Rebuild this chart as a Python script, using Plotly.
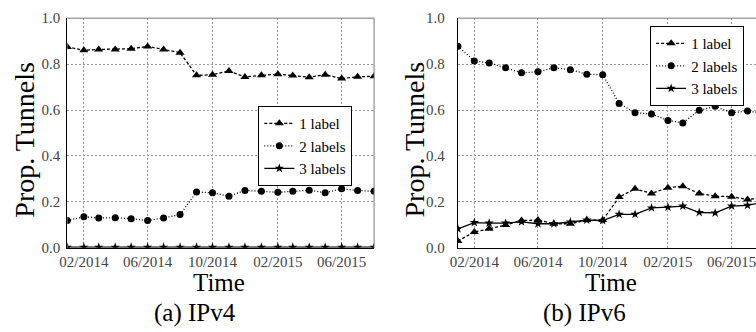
import plotly.graph_objects as go

months = ["2014-01-01", "2014-02-01", "2014-03-01", "2014-04-01", "2014-05-01",
          "2014-06-01", "2014-07-01", "2014-08-01", "2014-09-01", "2014-10-01",
          "2014-11-01", "2014-12-01", "2015-01-01", "2015-02-01", "2015-03-01",
          "2015-04-01", "2015-05-01", "2015-06-01", "2015-07-01", "2015-08-01"]

series_names = ["1 label", "2 labels", "3 labels"]

ipv4_1 = [0.875, 0.860, 0.864, 0.864, 0.867, 0.877, 0.864, 0.850, 0.751, 0.754,
          0.770, 0.744, 0.751, 0.756, 0.750, 0.743, 0.754, 0.737, 0.745, 0.747]
ipv4_2 = [0.119, 0.135, 0.130, 0.131, 0.127, 0.119, 0.130, 0.145, 0.243, 0.240,
          0.225, 0.250, 0.246, 0.242, 0.246, 0.251, 0.240, 0.257, 0.250, 0.246]
ipv4_3 = [0.003, 0.003, 0.003, 0.003, 0.003, 0.003, 0.003, 0.003, 0.003, 0.003,
          0.003, 0.003, 0.003, 0.003, 0.003, 0.003, 0.003, 0.003, 0.003, 0.003]

ipv6_1 = [0.030, 0.069, 0.083, 0.099, 0.119, 0.121, 0.105, 0.105, 0.121, 0.121,
          0.221, 0.257, 0.237, 0.262, 0.268, 0.237, 0.225, 0.223, 0.210, 0.220]
ipv6_2 = [0.878, 0.814, 0.805, 0.784, 0.762, 0.767, 0.784, 0.776, 0.756, 0.754,
          0.629, 0.588, 0.583, 0.555, 0.544, 0.599, 0.616, 0.588, 0.596, 0.585]
ipv6_3 = [0.083, 0.110, 0.108, 0.108, 0.113, 0.105, 0.105, 0.113, 0.121, 0.119,
          0.146, 0.146, 0.174, 0.177, 0.182, 0.154, 0.152, 0.182, 0.185, 0.200]

y_title = "Prop. Tunnels"
x_title = "Time"
captions = ["(a) IPv4", "(b) IPv6"]

W, H = 756, 332
FONT = "Liberation Serif"

styles = [
    dict(dash="3px,2px", symbol="triangle-up", size=8),
    dict(dash="1px,2px", symbol="circle", size=7),
    dict(dash="solid", symbol="star", size=7),
]

fig = go.Figure()

panels = [
    ([ipv4_1, ipv4_2, ipv4_3], "x", "y", "legend"),
    ([ipv6_1, ipv6_2, ipv6_3], "x2", "y2", "legend2"),
]
for data, xa, ya, lg in panels:
    for name, vals, st in zip(series_names, data, styles):
        fig.add_trace(go.Scatter(
            x=months, y=vals, name=name, mode="lines+markers",
            xaxis=xa, yaxis=ya, legend=lg,
            line=dict(color="black", width=1.3, dash=st["dash"]),
            marker=dict(symbol=st["symbol"], size=st["size"], color="black",
                        line=dict(width=0)),
        ))

px_x = lambda p: p / W
px_y = lambda p: (H - p) / H

ydom = [px_y(252), px_y(10.7)]
xdom1 = [px_x(60), px_x(370)]
xdom2 = [px_x(454.7), 1.0]

tickfont = dict(family=FONT, size=15, color="#444")
grid = dict(showgrid=True, gridcolor="#999", gridwidth=1, griddash="2px,2px")

common_x = dict(type="date", tickformat="%m/%Y", tick0="2014-02-01", dtick="M4",
                showline=True, linecolor="black", linewidth=1.3, ticks="", ticklen=0,
                tickfont=tickfont, zeroline=False, ticklabeloverflow="allow", **grid)
common_y = dict(range=[0, 1], dtick=0.2, tickformat=".1f", showline=True,
                linecolor="black", linewidth=1.3, ticks="", ticklen=0, tickfont=tickfont,
                zeroline=False, **grid)

legend_common = dict(xanchor="left", yanchor="top", bgcolor="white",
                     bordercolor="black", borderwidth=1,
                     font=dict(family=FONT, size=15, color="black"), itemwidth=30)

fig.update_layout(
    width=W, height=H, margin=dict(l=0, r=0, t=0, b=0),
    font=dict(family=FONT, color="black"),
    paper_bgcolor="white", plot_bgcolor="white",
    xaxis=dict(domain=xdom1, anchor="y", range=["2014-01-01", "2015-08-01"], **common_x),
    yaxis=dict(domain=ydom, anchor="x", ticklabelstandoff=3, **common_y),
    xaxis2=dict(domain=xdom2, anchor="y2", range=["2014-01-01", "2015-07-17"], **common_x),
    yaxis2=dict(domain=ydom, anchor="x2", ticklabelstandoff=9, **common_y),
    legend=dict(x=px_x(253), y=px_y(103), **legend_common),
    legend2=dict(x=px_x(649), y=px_y(19), **legend_common),
    showlegend=True,
)

# top / right frame lines
fig.add_shape(type="line", xref="x domain", yref="y domain", x0=0, x1=1, y0=1, y1=1,
              line=dict(color="#777", width=1))
fig.add_shape(type="line", xref="x domain", yref="y domain", x0=1, x1=1, y0=0, y1=1,
              line=dict(color="#777", width=1))
fig.add_shape(type="line", xref="x2 domain", yref="y2 domain", x0=0, x1=1, y0=1, y1=1,
              line=dict(color="#777", width=1))

ann_font_title = dict(family=FONT, size=28, color="black")
ann_font_x = dict(family=FONT, size=25, color="black")
ann_font_cap = dict(family=FONT, size=25, color="black")

for cx_title, cx_time, cx_cap, cap in [(17, 213, 188.5, captions[0]),
                                        (411, 609, 582.7, captions[1])]:
    fig.add_annotation(text=y_title, xref="paper", yref="paper",
                       x=px_x(cx_title), y=px_y(138.5), textangle=-90,
                       showarrow=False, font=ann_font_title,
                       xanchor="center", yanchor="middle")
    fig.add_annotation(text=x_title, xref="paper", yref="paper",
                       x=px_x(cx_time), y=px_y(288), showarrow=False,
                       font=ann_font_x, xanchor="center", yanchor="middle")
    fig.add_annotation(text=cap, xref="paper", yref="paper",
                       x=px_x(cx_cap), y=px_y(320), showarrow=False,
                       font=ann_font_cap, xanchor="center", yanchor="middle")

fig.write_html("out.html", config={"displayModeBar": False},
               post_script="document.body.style.margin='0';document.body.style.overflow='hidden';")
